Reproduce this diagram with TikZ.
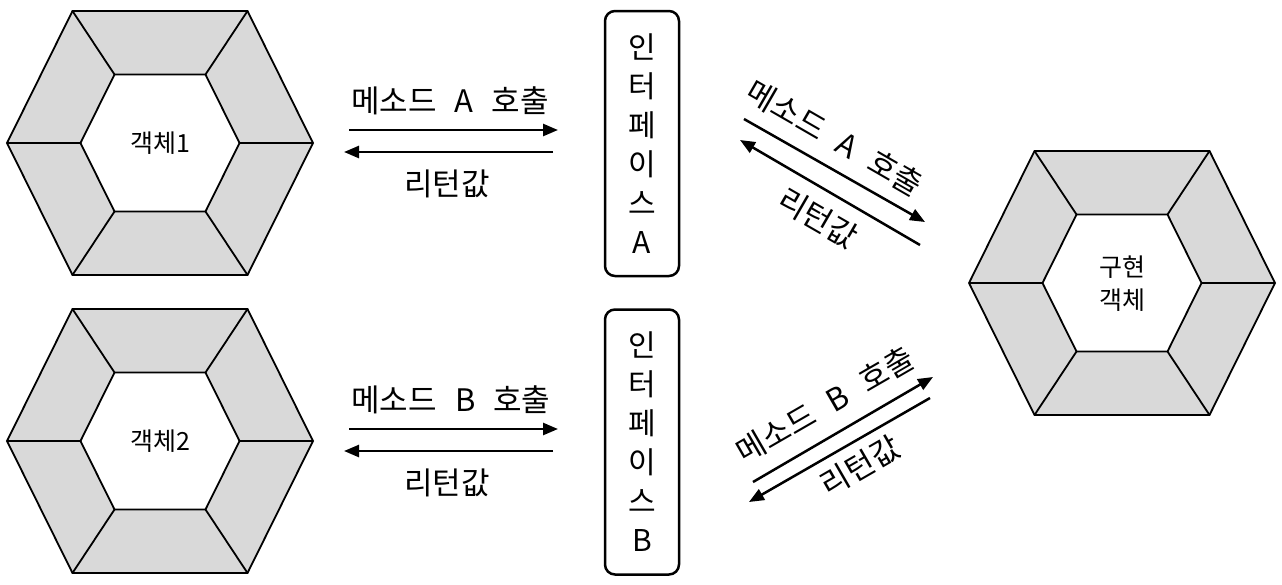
\documentclass[tikz,border=0pt]{standalone}
\usepackage{fontspec}
\setmainfont{Noto Sans CJK KR}[WordSpace=2.6]
\usetikzlibrary{arrows.meta,positioning}
\definecolor{ringgray}{RGB}{217,217,217}

\begin{document}
\begin{tikzpicture}[
  x=1pt,y=-1pt,
  every node/.style={font=\fontsize{31}{39}\selectfont},
  objtxt/.style={font=\fontsize{25}{33}\selectfont,align=center},
  ifbox/.style={draw,line width=2.5pt,rounded corners=10pt,minimum width=74pt,
                minimum height=265pt,align=center,inner sep=0pt,
                font=\fontsize{30}{39}\selectfont},
  arr/.style={-{Triangle[length=15pt,width=12pt]},line width=2.5pt},
  ring/.style={line width=1.8pt},
]
  \useasboundingbox (0,0) rectangle (1282,584);

  % Hexagon rings (two callers, one implementation)
  \foreach \cx/\cy in {160/143, 160/441, 1122/283} {
    \begin{scope}[shift={(\cx,\cy)}]
      \fill[ringgray,even odd rule]
        (-153,0) -- (-87.5,-132) -- (87.5,-132) -- (153,0) -- (87.5,132) -- (-87.5,132) -- cycle
        (-79.5,0) -- (-45.5,-68.5) -- (45.5,-68.5) -- (79.5,0) -- (45.5,68.5) -- (-45.5,68.5) -- cycle;
      \draw[ring] (-153,0) -- (-87.5,-132) -- (87.5,-132) -- (153,0) -- (87.5,132) -- (-87.5,132) -- cycle;
      \draw[ring] (-79.5,0) -- (-45.5,-68.5) -- (45.5,-68.5) -- (79.5,0) -- (45.5,68.5) -- (-45.5,68.5) -- cycle;
      \foreach \ox/\oy/\ix/\iy in {-153/0/-79.5/0, -87.5/-132/-45.5/-68.5, 87.5/-132/45.5/-68.5,
                                   153/0/79.5/0, 87.5/132/45.5/68.5, -87.5/132/-45.5/68.5}
        \draw[ring] (\ox,\oy) -- (\ix,\iy);
    \end{scope}
  }
  \node[objtxt] (obj1) at (160,143) {객체1};
  \node[objtxt] (obj2) at (160,441) {객체2};
  \node[objtxt] (impl) at (1122,284) {구현\\객체};

  % Interfaces
  \node[ifbox] (ifA) at (642,143.5) {인\\터\\페\\이\\스\\A};
  \node[ifbox] (ifB) at (642,442) {인\\터\\페\\이\\스\\B};

  % Arrow end points
  \coordinate (callA1) at (349,130);
  \coordinate (callA2) at (558,130);
  \coordinate (retA1) at (553,152);
  \coordinate (retA2) at (344,152);
  \coordinate (callB1) at (349,429);
  \coordinate (callB2) at (558,429);
  \coordinate (retB1) at (553,451);
  \coordinate (retB2) at (344,451);
  \coordinate (implA1) at (744,119);
  \coordinate (implA2) at (925,222);
  \coordinate (implRA1) at (920,245);
  \coordinate (implRA2) at (740,140);
  \coordinate (implB1) at (753,482);
  \coordinate (implB2) at (933,377);
  \coordinate (implRB1) at (930,398);
  \coordinate (implRB2) at (749,502);

  % Caller -> interface
  \draw[arr] (callA1) -- (callA2);
  \draw[arr] (retA1) -- (retA2);
  \draw[arr] (callB1) -- (callB2);
  \draw[arr] (retB1) -- (retB2);
  \node (callAtxt) at (450,101) {메소드 A 호출};
  \node (retAtxt) at (447,184) {리턴값};
  \node (callBtxt) at (451,400) {메소드 B 호출};
  \node (retBtxt) at (447,483) {리턴값};

  % Interface -> implementation
  \draw[arr] (implA1) -- (implA2);
  \draw[arr] (implRA1) -- (implRA2);
  \draw[arr] (implB1) -- (implB2);
  \draw[arr] (implRB1) -- (implRB2);
  \node[rotate=-30] (implAtxt) at (835,138) {메소드 A 호출};
  \node[rotate=-30] (implRAtxt) at (818,218) {리턴값};
  \node[rotate=30] (implBtxt) at (825,405) {메소드 B 호출};
  \node[rotate=30] (implRBtxt) at (860,466) {리턴값};
\end{tikzpicture}
\end{document}
